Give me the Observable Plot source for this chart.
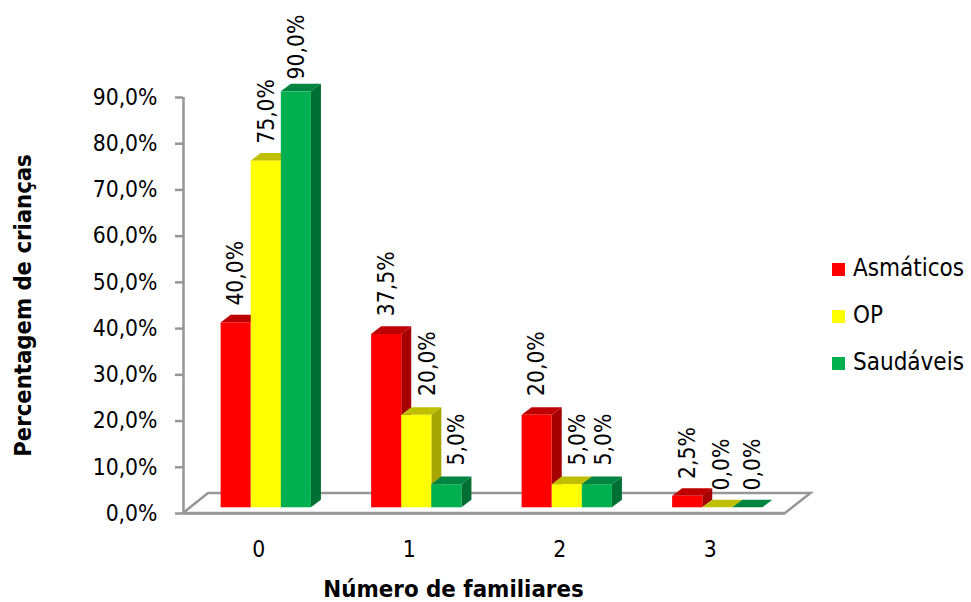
<!DOCTYPE html>
<html><head><meta charset="utf-8">
<style>
html,body{margin:0;padding:0;background:#fff}
#wrap{position:relative;width:971px;height:602px;overflow:hidden;font-family:"DejaVu Sans Condensed","DejaVu Sans",sans-serif}
#legend{position:absolute;left:832px;top:256px;font-size:24px;color:#000}
#legend div{height:47px;display:flex;align-items:flex-start}
#legend i{display:block;width:13px;height:13px;margin:7px 8px 0 0}
#legend span{line-height:25px}
</style>
<script src="https://cdn.jsdelivr.net/npm/d3@7"></script>
<script src="https://cdn.jsdelivr.net/npm/@observablehq/plot@0.6"></script>
</head><body><div id="wrap"><div id="legend"></div></div>
<script>
const groups = [0, 1, 2, 3];
const series = ["Asmáticos", "OP", "Saudáveis"];
const asmaticos = [40, 37.5, 20, 2.5];
const op = [75, 20, 5, 0];
const saudaveis = [90, 5, 5, 0];
const colors = ["#FF0000", "#FFFF00", "#00B050"];
const topColors = ["#BF0000", "#BFBF00", "#008440"];
const sideColors = ["#A60000", "#A6A600", "#006F33"];
const yTicks = [0, 10, 20, 30, 40, 50, 60, 70, 80, 90];
// label nudges in pixels, per series then per group (the source chart moved some labels)
const labelShiftX = [[0, 0, 0, 0], [0, 11, 10, 4], [0, 10, 6, 5]];
const labelShiftY = [[-23, -24, -25, -23], [-23, -25, -25, -23], [-18, -25, -25, -23]];

const pct = v => v.toFixed(1).replace(".", ",") + "%";
const values = [asmaticos, op, saudaveis];
const BAR = 0.2, SHIFT = 0.05;
const rows = groups.flatMap((g, gi) => series.map((s, si) => ({
  group: g, series: s, si, gi, value: values[si][gi],
  x1: g + SHIFT + (si - 1.5) * BAR, x2: g + SHIFT + (si - 0.5) * BAR
})));

const LIFT = 5.7, DX = 10, DY = 7.6, GREY = "#969696";

function poly(g, pts, fill) {
  const p = document.createElementNS("http://www.w3.org/2000/svg", "polygon");
  p.setAttribute("points", pts.map(q => q.join(",")).join(" "));
  p.setAttribute("fill", fill);
  if (fill === "#fff") { p.setAttribute("stroke", GREY); p.setAttribute("stroke-width", 2.5); }
  g.appendChild(p);
}
const floor = (i, {x, y}) => {
  const g = document.createElementNS("http://www.w3.org/2000/svg", "g");
  const x0 = x(-0.5), x1 = x(3.5), y0 = y(0);
  poly(g, [[x0, y0], [x0 + 25, y0 - 20], [x1 + 25.5, y0 - 20], [x1, y0]], "#fff");
  return g;
};
const faces = r => (i, {x, y}) => {
  const g = document.createElementNS("http://www.w3.org/2000/svg", "g");
  const a = x(r.x1), b = x(r.x2), y0 = y(0) - LIFT, yt = y(r.value) - LIFT;
  poly(g, [[b, y0], [b + DX, y0 - DY], [b + DX, yt - DY], [b, yt]], sideColors[r.si]);
  poly(g, [[a, yt], [a + DX, yt - DY], [b + DX, yt - DY], [b, yt]], topColors[r.si]);
  return g;
};

const FONT = '"DejaVu Sans Condensed", "DejaVu Sans", sans-serif';
const chart = Plot.plot({
  width: 971, height: 602,
  marginLeft: 183, marginRight: 186, marginTop: 97, marginBottom: 89,
  style: {background: "transparent", fontFamily: FONT, overflow: "visible"},
  x: {type: "linear", domain: [-0.5, 3.5]},
  y: {domain: [0, 90]},
  color: {domain: series, range: colors},
  marks: [
    floor,
    ...rows.flatMap(r => [
      faces(r),
      Plot.rect([r], {x1: "x1", x2: "x2", y1: 0, y2: "value", fill: "series", dy: -LIFT, inset: 0})
    ]),
    Plot.ruleX([-0.5], {stroke: GREY, strokeWidth: 2.5}),
    Plot.ruleY([0], {stroke: GREY, strokeWidth: 2.5}),
    Plot.axisY({ticks: yTicks, tickFormat: pct, tickSize: 8, tickPadding: 18, stroke: GREY, strokeWidth: 2.5,
      fill: "#000", fontSize: 22.7, label: null}),
    Plot.axisX({ticks: groups, tickFormat: d => String(d), tickSize: 0, tickPadding: 27, fill: "#000", fontSize: 22.7, label: null}),
    Plot.text(["Percentagem de crianças"], {frameAnchor: "left", textAnchor: "middle", text: d => d, rotate: -90, dx: -160, fontSize: 23.6, fontWeight: "bold", fill: "#000"}),
    Plot.text(["Número de familiares"], {frameAnchor: "bottom", text: d => d, dx: -31, dy: 83, fontSize: 23.8, fontWeight: "bold", fill: "#000"}),
    ...rows.map(r => Plot.text([r], {
      x: d => (d.x1 + d.x2) / 2, y: "value", text: d => pct(d.value), rotate: -90, textAnchor: "start",
      dx: labelShiftX[r.si][r.gi], dy: labelShiftY[r.si][r.gi], fontSize: 22.7, fill: "#000"
    }))
  ]
});
document.getElementById("wrap").prepend(chart);
chart.style.position = "absolute"; chart.style.left = "0"; chart.style.top = "0";
const legend = document.getElementById("legend");
series.forEach((s, i) => {
  const row = document.createElement("div");
  const sw = document.createElement("i"); sw.style.background = colors[i];
  const tx = document.createElement("span"); tx.textContent = s;
  row.append(sw, tx); legend.append(row);
});
</script></body></html>
